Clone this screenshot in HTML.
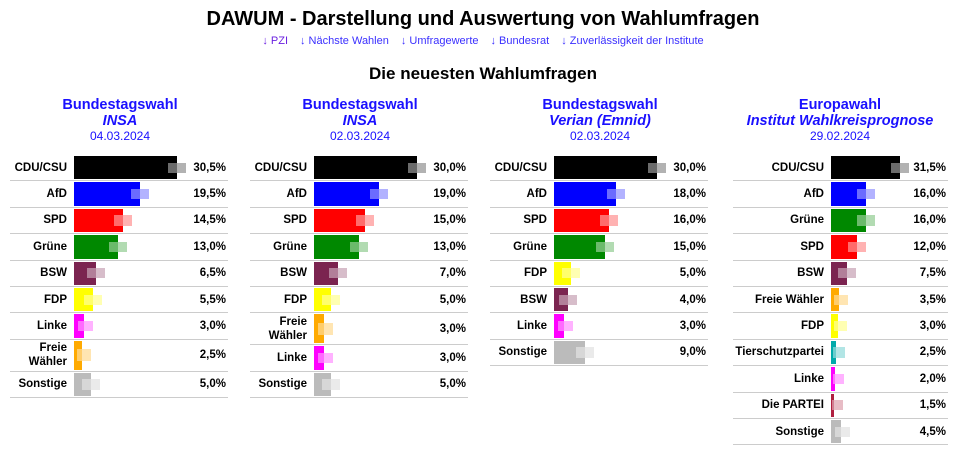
<!DOCTYPE html>
<html><head><meta charset="utf-8"><style>
body{margin:0;width:966px;height:458px;background:#fff;font-family:"Liberation Sans",Arial,sans-serif;position:relative;overflow:hidden}
.t{position:absolute;left:0;width:966px;text-align:center}
.links{color:#3a2fff;font-size:11px}
.links span{margin:0 6px}
.ph{position:absolute;width:240px;text-align:center;color:#1a10ff}
.ph b{display:block;font-size:14.5px;line-height:16px}
.ph i{display:block;font-size:14.5px;font-weight:bold;line-height:16px}
.ph s{display:block;text-decoration:none;font-size:12px;line-height:15px}
.p{position:absolute;top:155px}
.r{display:flex;align-items:stretch;height:26.4px;border-bottom:1px solid #ccc;box-sizing:border-box;font-size:11.5px;font-weight:bold}
.r.tall{height:32px}
.l{text-align:right;padding-right:7px;display:flex;align-items:center;justify-content:flex-end;line-height:14px}
.b{position:relative;flex:none}
.b .f{position:absolute;left:0;top:1px;bottom:1px}
.g1{position:absolute;top:30%;bottom:30%;background:rgba(255,255,255,.42)}
.g2{position:absolute;top:30%;bottom:30%;opacity:.3}
.v{flex:1;text-align:right;display:flex;align-items:center;justify-content:flex-end;padding-right:2px}
</style></head><body>
<div class="t" style="top:8px;font-size:20px;font-weight:bold">DAWUM - Darstellung und Auswertung von Wahlumfragen</div>
<div class="t links" style="top:35px"><span style="color:#6a1fe0">↓ PZI</span><span>↓ Nächste Wahlen</span><span>↓ Umfragewerte</span><span>↓ Bundesrat</span><span>↓ Zuverlässigkeit der Institute</span></div>
<div class="t" style="top:64px;font-size:17px;font-weight:bold">Die neuesten Wahlumfragen</div>

<div class="ph" style="left:0;top:97px"><b>Bundestagswahl</b><i>INSA</i><s>04.03.2024</s></div>
<div class="ph" style="left:240px;top:97px"><b>Bundestagswahl</b><i>INSA</i><s>02.03.2024</s></div>
<div class="ph" style="left:480px;top:97px"><b>Bundestagswahl</b><i>Verian (Emnid)</i><s>02.03.2024</s></div>
<div class="ph" style="left:720px;top:97px"><b>Europawahl</b><i>Institut Wahlkreisprognose</i><s>29.02.2024</s></div>

<div id="c"></div>
<script>
const P=[
 {x:10,w:218,lw:57,sc:3.38,rows:[["CDU/CSU",30.5,"#000"],["AfD",19.5,"#00f"],["SPD",14.5,"#f00"],["Grüne",13,"#080"],["BSW",6.5,"#7b2450"],["FDP",5.5,"#ff0"],["Linke",3,"#f0f"],["Freie<br>Wähler",2.5,"#fa0",1],["Sonstige",5,"#bbb"]]},
 {x:250,w:218,lw:57,sc:3.43,rows:[["CDU/CSU",30,"#000"],["AfD",19,"#00f"],["SPD",15,"#f00"],["Grüne",13,"#080"],["BSW",7,"#7b2450"],["FDP",5,"#ff0"],["Freie<br>Wähler",3,"#fa0",1],["Linke",3,"#f0f"],["Sonstige",5,"#bbb"]]},
 {x:490,w:218,lw:57,sc:3.43,rows:[["CDU/CSU",30,"#000"],["AfD",18,"#00f"],["SPD",16,"#f00"],["Grüne",15,"#080"],["FDP",5,"#ff0"],["BSW",4,"#7b2450"],["Linke",3,"#f0f"],["Sonstige",9,"#bbb"]]},
 {x:733,w:215,lw:91,sc:2.19,rows:[["CDU/CSU",31.5,"#000"],["AfD",16,"#00f"],["Grüne",16,"#080"],["SPD",12,"#f00"],["BSW",7.5,"#7b2450"],["Freie Wähler",3.5,"#fa0"],["FDP",3,"#ff0"],["Tierschutzpartei",2.5,"#0aa"],["Linke",2,"#f0f"],["Die PARTEI",1.5,"#b02040"],["Sonstige",4.5,"#bbb"]]}
];
let h="";
for(const p of P){
 h+=`<div class="p" style="left:${p.x}px;width:${p.w}px">`;
 for(const r of p.rows){
  const bw=r[1]*p.sc, gi=Math.min(9,bw*0.6);
  h+=`<div class="r${r[3]?' tall':''}"><div class="l" style="width:${p.lw}px">${r[0]}</div><div class="b" style="width:${bw}px"><div class="f" style="width:${bw}px;background:${r[2]}"></div><div class="g1" style="left:${bw-gi}px;width:${gi}px"></div><div class="g2" style="left:${bw}px;width:9px;background:${r[2]}"></div></div><div class="v">${r[1].toFixed(1).replace('.',',')}%</div></div>`;
 }
 h+="</div>";
}
document.getElementById("c").innerHTML=h;
</script>
</body></html>
